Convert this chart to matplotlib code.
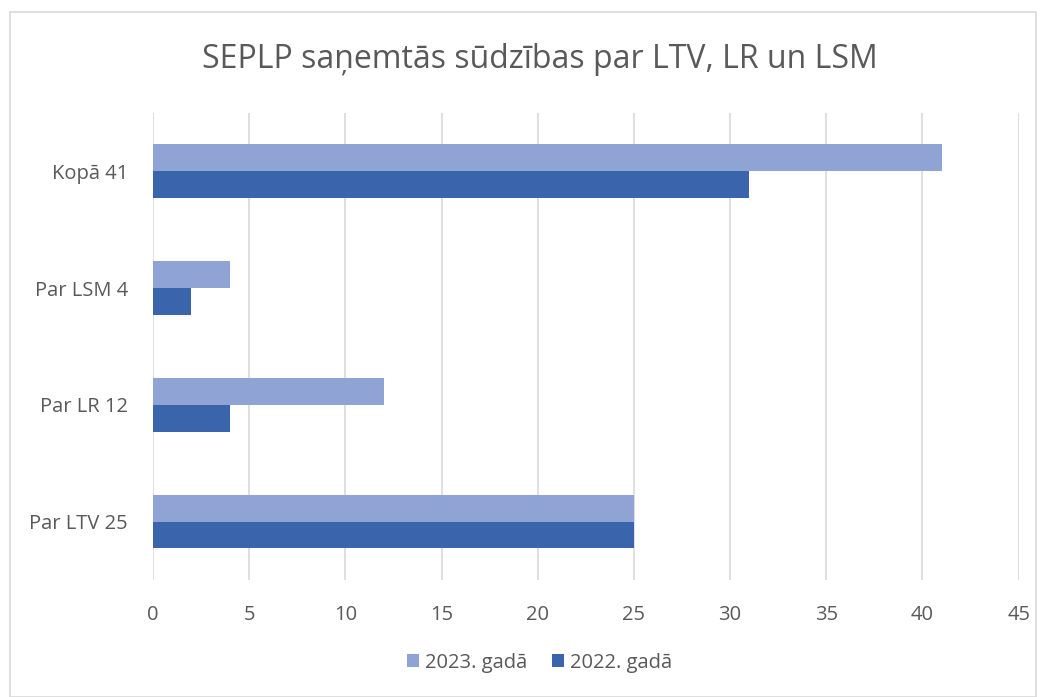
import numpy as np
from matplotlib import pyplot as plt
from matplotlib.patches import Rectangle

categories = ["Par LTV 25", "Par LR 12", "Par LSM 4", "Kopā 41"]
values_2023 = [25, 12, 4, 41]
values_2022 = [25, 4, 2, 31]
series_names = ["2023. gadā", "2022. gadā"]

light = "#8FA4D5"
dark = "#3A64AC"
text_c = "#595959"
grid_c = "#D9D9D9"

plt.rcParams['font.family'] = ['Open Sans', 'DejaVu Sans']

fig = plt.figure(figsize=(10.48, 6.97), dpi=100)
ax = fig.add_axes([0.146, 0.168, 0.826, 0.670])

y = np.arange(len(categories))
h = 0.23
ax.barh(y + h / 2, values_2023, height=h, color=light, label=series_names[0], zorder=3)
ax.barh(y - h / 2, values_2022, height=h, color=dark, label=series_names[1], zorder=3)

ax.set_xlim(0, 45)
ax.set_ylim(-0.5, 3.5)
ax.set_xticks(np.arange(0, 46, 5))
ax.set_yticks(y)
ax.set_yticklabels(categories)
ax.tick_params(axis='both', length=0, labelsize=14.5, colors=text_c)
ax.tick_params(axis='x', pad=18)
ax.tick_params(axis='y', pad=18)
ax.grid(axis='x', color=grid_c, linewidth=1.2, zorder=0)
for s in ax.spines.values():
    s.set_visible(False)

fig.text(0.515, 0.915, "SEPLP saņemtās sūdzības par LTV, LR un LSM",
         ha='center', va='center', fontsize=23, color=text_c)

fig.legend(loc='center', bbox_to_anchor=(0.515, 0.049), ncol=2, frameon=False,
           fontsize=14.5, labelcolor=text_c, handlelength=0.6, handleheight=0.6,
           handletextpad=0.3, columnspacing=1.2)

fig.patches.append(Rectangle((10 / 1048, 0), 1026 / 1048, 1 - 12 / 697,
                             transform=fig.transFigure, fill=False,
                             edgecolor="#D9D9D9", linewidth=1.2))

fig.savefig("out.png", dpi=100)
